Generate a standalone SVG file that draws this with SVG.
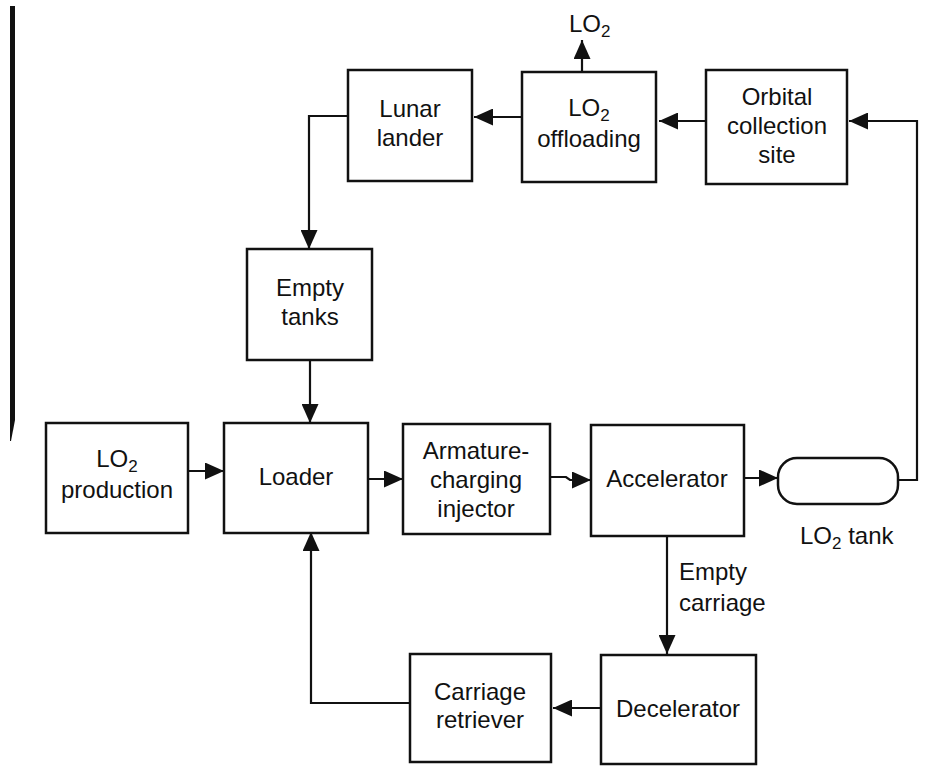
<svg xmlns="http://www.w3.org/2000/svg" width="928" height="766" viewBox="0 0 928 766">
<style>
.box{fill:#fff;stroke:#111;stroke-width:2.5}
.ln{fill:none;stroke:#111;stroke-width:2.2}
.t{font-family:"Liberation Sans",Arial,Helvetica,sans-serif;font-size:24px;fill:#111;text-anchor:middle}
.tl{font-family:"Liberation Sans",Arial,Helvetica,sans-serif;font-size:24px;fill:#111;text-anchor:start}
.sub{font-size:17px}
</style>
<defs>
<marker id="ah" markerUnits="userSpaceOnUse" markerWidth="19" markerHeight="17" refX="19" refY="8.5" orient="auto">
<path d="M0,0 L19,8.5 L0,17 z" fill="#111"/>
</marker>
</defs>
<rect width="928" height="766" fill="#fff"/>
<polygon points="10,6 15,6 15,420 11,441 10,441" fill="#111"/>

<g id="connectors">
<line class="ln" x1="582" y1="72" x2="582" y2="40" marker-end="url(#ah)"/>
<line class="ln" x1="706" y1="121" x2="659" y2="121" marker-end="url(#ah)"/>
<line class="ln" x1="522" y1="117" x2="474" y2="117" marker-end="url(#ah)"/>
<polyline class="ln" points="348,116 309,116 309,249" marker-end="url(#ah)"/>
<line class="ln" x1="310" y1="360" x2="310" y2="423" marker-end="url(#ah)"/>
<line class="ln" x1="188" y1="471" x2="224" y2="471" marker-end="url(#ah)"/>
<line class="ln" x1="368" y1="479" x2="403" y2="479" marker-end="url(#ah)"/>
<polyline class="ln" points="550,477 566,477 570,480 591,480" marker-end="url(#ah)"/>
<line class="ln" x1="744" y1="478" x2="778" y2="478" marker-end="url(#ah)"/>
<polyline class="ln" points="898,480 917,480 917,121 849,121" marker-end="url(#ah)"/>
<line class="ln" x1="667" y1="536" x2="667" y2="654" marker-end="url(#ah)"/>
<line class="ln" x1="601" y1="708" x2="553" y2="708" marker-end="url(#ah)"/>
<polyline class="ln" points="410,703 311,703 311,532" marker-end="url(#ah)"/>
</g>

<g id="lo2-out-label">
<text class="tl" x="569" y="32">LO<tspan class="sub" dy="5">2</tspan></text>
</g>

<g id="lunar-lander">
<rect class="box" x="348" y="70" width="124" height="111"/>
<text class="t"><tspan x="410" y="117">Lunar</tspan><tspan x="410" y="146">lander</tspan></text>
</g>

<g id="lo2-offloading">
<rect class="box" x="522" y="72" width="134" height="110"/>
<text class="t" x="589" y="116">LO<tspan class="sub" dy="5">2</tspan></text>
<text class="t" x="589" y="147">offloading</text>
</g>

<g id="orbital-collection-site">
<rect class="box" x="706" y="70" width="141" height="114"/>
<text class="t"><tspan x="777" y="105">Orbital</tspan><tspan x="777" y="134">collection</tspan><tspan x="777" y="163">site</tspan></text>
</g>

<g id="empty-tanks">
<rect class="box" x="247" y="249" width="125" height="111"/>
<text class="t"><tspan x="310" y="296">Empty</tspan><tspan x="310" y="325">tanks</tspan></text>
</g>

<g id="lo2-production">
<rect class="box" x="46" y="423" width="142" height="110"/>
<text class="t" x="117" y="467">LO<tspan class="sub" dy="5">2</tspan></text>
<text class="t" x="117" y="498">production</text>
</g>

<g id="loader">
<rect class="box" x="224" y="423" width="144" height="110"/>
<text class="t" x="296" y="485">Loader</text>
</g>

<g id="armature-charging-injector">
<rect class="box" x="403" y="424" width="147" height="110"/>
<text class="t"><tspan x="476" y="459">Armature-</tspan><tspan x="476" y="488">charging</tspan><tspan x="476" y="517">injector</tspan></text>
</g>

<g id="accelerator">
<rect class="box" x="591" y="425" width="153" height="111"/>
<text class="t" x="667" y="487">Accelerator</text>
</g>

<g id="lo2-tank">
<rect class="box" x="778" y="458" width="120" height="46" rx="19" ry="19"/>
<text class="tl" x="800" y="544">LO<tspan class="sub" dy="5">2</tspan><tspan dy="-5"> tank</tspan></text>
</g>

<g id="empty-carriage-label">
<text class="tl"><tspan x="679" y="580">Empty</tspan><tspan x="679" y="611">carriage</tspan></text>
</g>

<g id="decelerator">
<rect class="box" x="601" y="655" width="155" height="109"/>
<text class="t" x="678" y="717">Decelerator</text>
</g>

<g id="carriage-retriever">
<rect class="box" x="410" y="654" width="141" height="108"/>
<text class="t"><tspan x="480" y="700">Carriage</tspan><tspan x="480" y="728">retriever</tspan></text>
</g>
</svg>
